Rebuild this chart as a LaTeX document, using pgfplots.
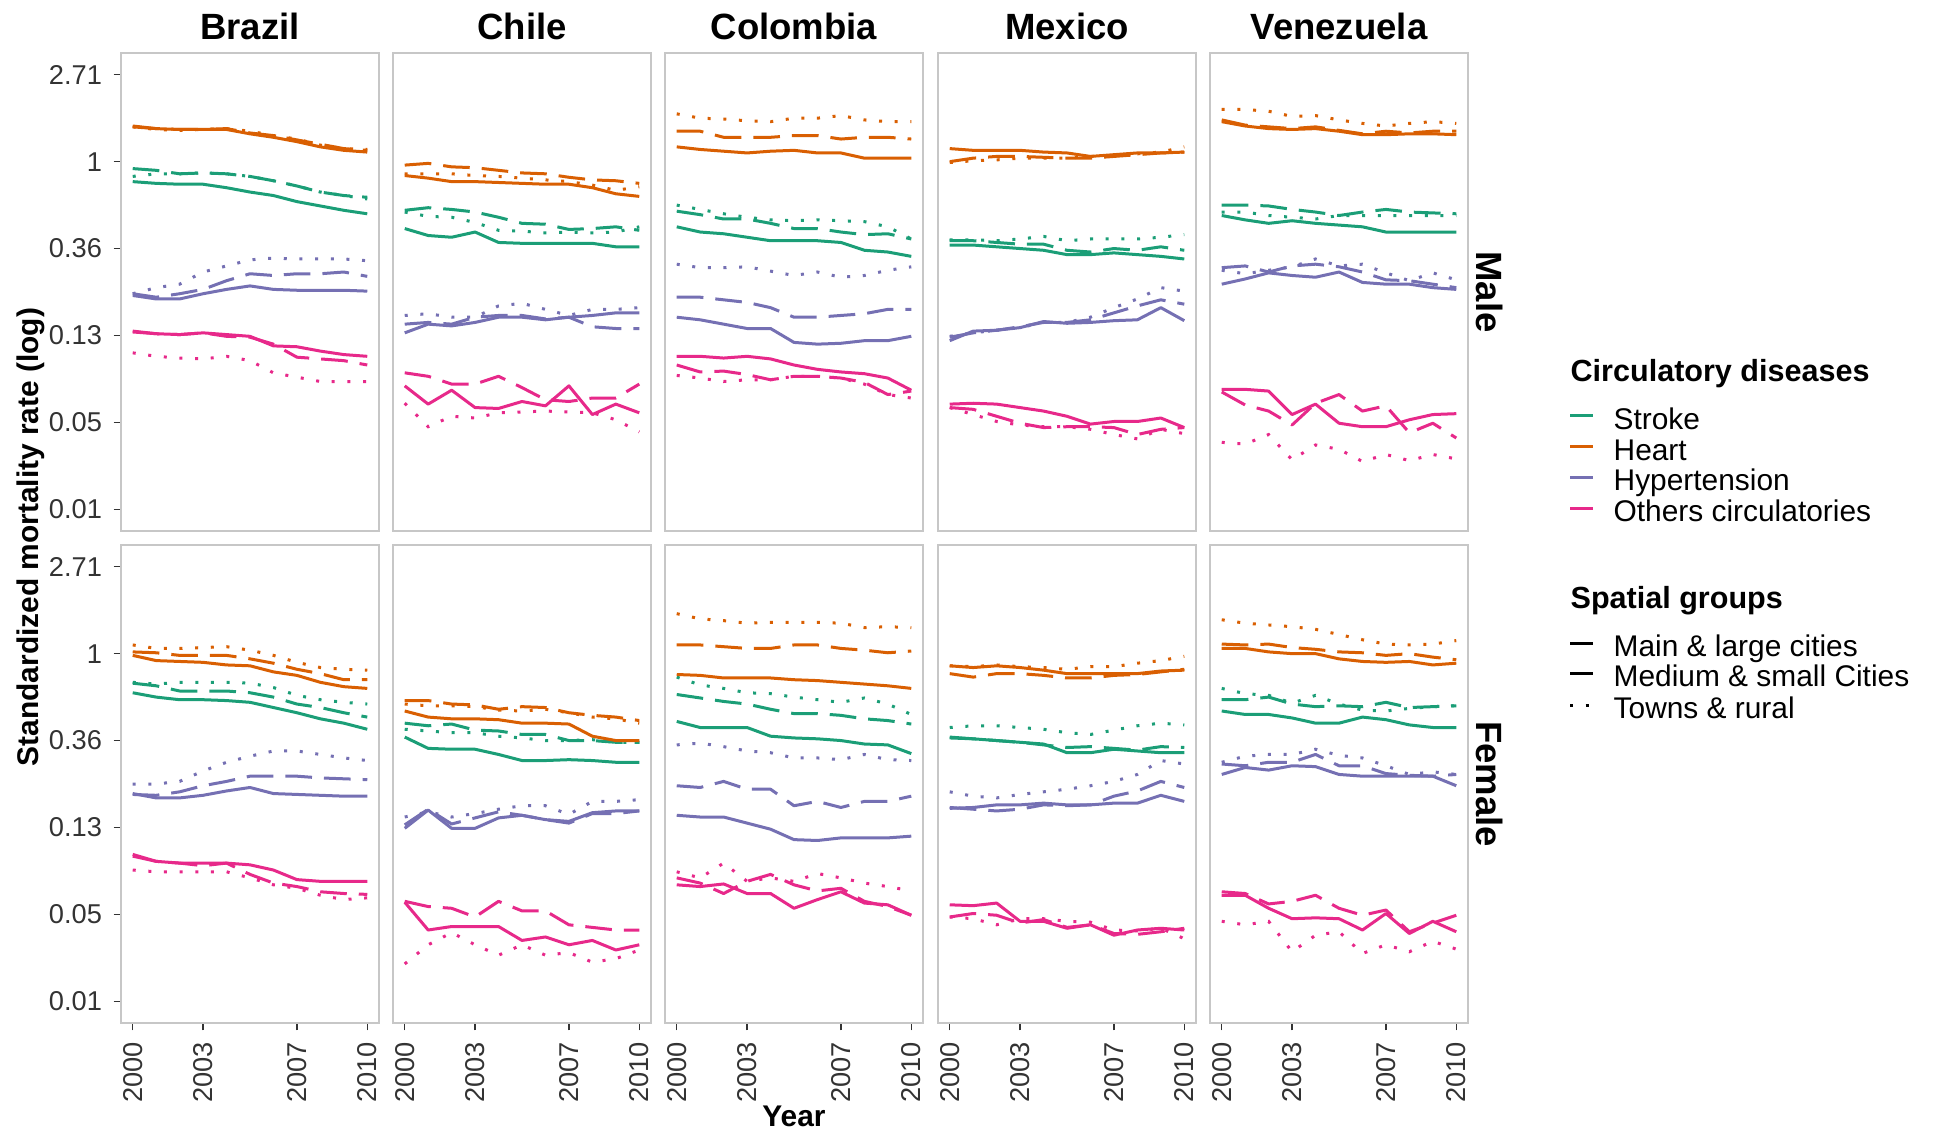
\documentclass[border=0pt]{standalone}
\usepackage{fontspec}
\setmainfont{Liberation Sans}
\usepackage{pgfplots}
\usepackage{pgfplotstable}
\pgfplotsset{compat=1.18}

\definecolor{cS}{HTML}{1B9E77}
\definecolor{cH}{HTML}{D95F02}
\definecolor{cP}{HTML}{7570B3}
\definecolor{cO}{HTML}{E7298A}

% values are natural logs of the standardized mortality rate
% S = Stroke, H = Heart, P = Hypertension, O = Others circulatories
% s = Main & large cities, m = Medium & small Cities, t = Towns & rural
\pgfplotstableread{
yr Ss Sm St Hs Hm Ht Ps Pm Pt Os Om Ot
2000 -0.23 -0.08 -0.17 0.40 0.41 0.40 -1.54 -1.52 -1.52 -1.95 -1.96 -2.20
2001 -0.25 -0.10 -0.14 0.38 0.38 0.37 -1.58 -1.56 -1.45 -1.98 -1.98 -2.24
2002 -0.26 -0.14 -0.14 0.37 0.37 0.36 -1.58 -1.52 -1.41 -1.99 -1.99 -2.26
2003 -0.26 -0.13 -0.13 0.37 0.37 0.37 -1.52 -1.47 -1.27 -1.97 -1.97 -2.27
2004 -0.30 -0.14 -0.14 0.37 0.38 0.38 -1.47 -1.37 -1.20 -1.99 -2.01 -2.24
2005 -0.35 -0.17 -0.17 0.32 0.33 0.35 -1.43 -1.29 -1.13 -2.01 -2.02 -2.29
2006 -0.39 -0.22 -0.22 0.28 0.30 0.30 -1.47 -1.31 -1.11 -2.12 -2.10 -2.43
2007 -0.46 -0.28 -0.28 0.23 0.25 0.26 -1.48 -1.29 -1.12 -2.13 -2.25 -2.48
2008 -0.51 -0.35 -0.35 0.17 0.20 0.19 -1.48 -1.29 -1.12 -2.18 -2.27 -2.53
2009 -0.56 -0.39 -0.39 0.13 0.15 0.15 -1.48 -1.27 -1.12 -2.22 -2.29 -2.53
2010 -0.60 -0.41 -0.43 0.11 0.13 0.14 -1.49 -1.32 -1.14 -2.24 -2.34 -2.53
}\BrM
\pgfplotstableread{
yr Ss Sm St Hs Hm Ht Ps Pm Pt Os Om Ot
2000 -0.77 -0.56 -0.58 -0.16 -0.04 -0.14 -1.97 -1.87 -1.77 -2.58 -2.43 -2.78
2001 -0.85 -0.53 -0.63 -0.19 -0.02 -0.14 -1.87 -1.85 -1.75 -2.79 -2.47 -3.05
2002 -0.87 -0.55 -0.64 -0.23 -0.06 -0.14 -1.89 -1.87 -1.79 -2.63 -2.56 -2.93
2003 -0.81 -0.58 -0.70 -0.23 -0.07 -0.16 -1.85 -1.79 -1.79 -2.83 -2.56 -2.95
2004 -0.93 -0.64 -0.79 -0.24 -0.10 -0.17 -1.79 -1.77 -1.66 -2.84 -2.47 -2.89
2005 -0.94 -0.71 -0.80 -0.25 -0.13 -0.19 -1.79 -1.77 -1.63 -2.76 -2.60 -2.88
2006 -0.94 -0.72 -0.82 -0.26 -0.14 -0.21 -1.82 -1.81 -1.70 -2.81 -2.74 -2.87
2007 -0.94 -0.78 -0.81 -0.26 -0.18 -0.23 -1.79 -1.79 -1.77 -2.58 -2.76 -2.88
2008 -0.94 -0.77 -0.82 -0.30 -0.21 -0.27 -1.77 -1.90 -1.70 -2.91 -2.72 -2.89
2009 -0.98 -0.75 -0.81 -0.37 -0.22 -0.33 -1.74 -1.92 -1.70 -2.79 -2.72 -2.97
2010 -0.98 -0.79 -0.75 -0.40 -0.25 -0.29 -1.74 -1.92 -1.68 -2.89 -2.56 -3.11
}\ChM
\pgfplotstableread{
yr Ss Sm St Hs Hm Ht Ps Pm Pt Os Om Ot
2000 -0.75 -0.57 -0.50 0.17 0.35 0.55 -1.79 -1.56 -1.18 -2.24 -2.34 -2.46
2001 -0.81 -0.61 -0.55 0.14 0.35 0.50 -1.82 -1.56 -1.22 -2.24 -2.42 -2.49
2002 -0.83 -0.66 -0.60 0.12 0.28 0.49 -1.87 -1.59 -1.22 -2.26 -2.41 -2.53
2003 -0.87 -0.66 -0.64 0.10 0.28 0.47 -1.92 -1.62 -1.21 -2.24 -2.45 -2.51
2004 -0.91 -0.71 -0.67 0.12 0.28 0.46 -1.92 -1.68 -1.26 -2.27 -2.51 -2.51
2005 -0.91 -0.77 -0.68 0.13 0.30 0.50 -2.08 -1.79 -1.31 -2.34 -2.47 -2.47
2006 -0.91 -0.77 -0.67 0.10 0.30 0.50 -2.10 -1.79 -1.27 -2.39 -2.47 -2.47
2007 -0.93 -0.81 -0.68 0.10 0.26 0.53 -2.09 -1.77 -1.33 -2.42 -2.49 -2.49
2008 -1.02 -0.84 -0.69 0.04 0.28 0.48 -2.06 -1.75 -1.31 -2.44 -2.54 -2.56
2009 -1.04 -0.83 -0.75 0.04 0.28 0.46 -2.06 -1.70 -1.25 -2.49 -2.68 -2.68
2010 -1.09 -0.89 -0.89 0.04 0.26 0.46 -2.01 -1.70 -1.21 -2.63 -2.64 -2.72
}\CoM
\pgfplotstableread{
yr Ss Sm St Hs Hm Ht Ps Pm Pt Os Om Ot
2000 -0.96 -0.91 -0.90 0.15 0.00 -0.01 -2.06 -2.02 -2.01 -2.79 -2.83 -2.83
2001 -0.96 -0.91 -0.90 0.13 0.04 0.01 -1.95 -1.97 -1.97 -2.78 -2.85 -2.91
2002 -0.98 -0.93 -0.91 0.13 0.06 0.02 -1.94 -1.94 -1.94 -2.79 -2.93 -2.99
2003 -1.00 -0.95 -0.89 0.13 0.06 0.04 -1.91 -1.90 -1.91 -2.83 -3.01 -3.03
2004 -1.02 -0.95 -0.86 0.11 0.05 0.04 -1.84 -1.85 -1.85 -2.87 -3.06 -3.05
2005 -1.07 -1.02 -0.91 0.10 0.04 0.04 -1.86 -1.85 -1.85 -2.93 -3.05 -3.05
2006 -1.07 -1.04 -0.89 0.06 0.04 0.06 -1.85 -1.82 -1.79 -3.02 -3.05 -3.08
2007 -1.05 -1.00 -0.89 0.08 0.06 0.06 -1.83 -1.74 -1.68 -2.99 -3.06 -3.14
2008 -1.07 -1.02 -0.89 0.10 0.08 0.09 -1.82 -1.66 -1.58 -2.99 -3.14 -3.19
2009 -1.09 -0.98 -0.87 0.10 0.10 0.11 -1.68 -1.59 -1.45 -2.95 -3.08 -3.08
2010 -1.12 -1.02 -0.84 0.11 0.11 0.17 -1.83 -1.64 -1.49 -3.06 -3.06 -3.13
}\MeM
\pgfplotstableread{
yr Ss Sm St Hs Hm Ht Ps Pm Pt Os Om Ot
2000 -0.62 -0.50 -0.58 0.46 0.48 0.60 -1.41 -1.22 -1.25 -2.62 -2.65 -3.23
2001 -0.67 -0.50 -0.58 0.41 0.42 0.60 -1.35 -1.20 -1.29 -2.62 -2.80 -3.25
2002 -0.71 -0.51 -0.62 0.38 0.40 0.58 -1.28 -1.27 -1.25 -2.64 -2.87 -3.14
2003 -0.68 -0.55 -0.64 0.37 0.38 0.52 -1.31 -1.20 -1.21 -2.91 -3.03 -3.43
2004 -0.71 -0.58 -0.66 0.38 0.40 0.53 -1.33 -1.18 -1.12 -2.79 -2.78 -3.26
2005 -0.73 -0.62 -0.62 0.35 0.36 0.48 -1.27 -1.21 -1.20 -3.01 -2.68 -3.31
2006 -0.75 -0.58 -0.62 0.31 0.32 0.44 -1.39 -1.27 -1.18 -3.05 -2.87 -3.45
2007 -0.81 -0.55 -0.62 0.31 0.35 0.41 -1.41 -1.36 -1.28 -3.05 -2.81 -3.37
2008 -0.81 -0.58 -0.62 0.32 0.33 0.44 -1.41 -1.37 -1.37 -2.97 -3.12 -3.44
2009 -0.81 -0.59 -0.62 0.32 0.35 0.46 -1.45 -1.41 -1.28 -2.91 -3.01 -3.37
2010 -0.81 -0.60 -0.62 0.31 0.35 0.44 -1.47 -1.45 -1.36 -2.90 -3.18 -3.42
}\VeM
\pgfplotstableread{
yr Ss Sm St Hs Hm Ht Ps Pm Pt Os Om Ot
2000 -0.45 -0.34 -0.33 -0.02 0.02 0.10 -1.61 -1.62 -1.50 -2.31 -2.33 -2.49
2001 -0.50 -0.37 -0.35 -0.08 0.01 0.06 -1.66 -1.63 -1.50 -2.39 -2.39 -2.51
2002 -0.53 -0.43 -0.33 -0.09 -0.02 0.06 -1.66 -1.59 -1.47 -2.41 -2.41 -2.51
2003 -0.53 -0.43 -0.33 -0.10 -0.02 0.07 -1.63 -1.52 -1.35 -2.41 -2.44 -2.51
2004 -0.54 -0.43 -0.33 -0.13 -0.02 0.08 -1.58 -1.47 -1.25 -2.41 -2.41 -2.51
2005 -0.56 -0.45 -0.34 -0.14 -0.06 0.04 -1.54 -1.41 -1.18 -2.43 -2.54 -2.58
2006 -0.62 -0.50 -0.39 -0.21 -0.11 -0.02 -1.61 -1.41 -1.12 -2.49 -2.64 -2.66
2007 -0.68 -0.58 -0.48 -0.25 -0.18 -0.10 -1.62 -1.41 -1.12 -2.60 -2.68 -2.70
2008 -0.75 -0.62 -0.53 -0.33 -0.23 -0.16 -1.63 -1.43 -1.16 -2.62 -2.74 -2.78
2009 -0.80 -0.68 -0.56 -0.38 -0.30 -0.18 -1.64 -1.44 -1.20 -2.62 -2.76 -2.83
2010 -0.87 -0.73 -0.58 -0.40 -0.30 -0.19 -1.64 -1.45 -1.23 -2.62 -2.77 -2.81
}\BrF
\pgfplotstableread{
yr Ss Sm St Hs Hm Ht Ps Pm Pt Os Om Ot
2000 -0.96 -0.80 -0.87 -0.66 -0.54 -0.58 -2.01 -1.97 -1.88 -2.86 -2.85 -3.57
2001 -1.09 -0.83 -0.89 -0.73 -0.54 -0.60 -1.80 -1.79 -1.82 -3.18 -2.91 -3.35
2002 -1.10 -0.81 -0.91 -0.75 -0.58 -0.60 -2.01 -1.96 -1.88 -3.14 -2.93 -3.21
2003 -1.10 -0.88 -0.91 -0.75 -0.59 -0.61 -2.01 -1.89 -1.84 -3.14 -3.03 -3.35
2004 -1.16 -0.89 -0.95 -0.76 -0.64 -0.65 -1.89 -1.82 -1.79 -3.14 -2.85 -3.47
2005 -1.23 -0.93 -0.97 -0.80 -0.61 -0.66 -1.86 -1.86 -1.75 -3.30 -2.96 -3.35
2006 -1.23 -0.93 -1.00 -0.80 -0.62 -0.64 -1.91 -1.91 -1.75 -3.26 -2.96 -3.47
2007 -1.22 -1.00 -1.00 -0.81 -0.68 -0.68 -1.93 -1.95 -1.85 -3.35 -3.12 -3.44
2008 -1.23 -1.00 -0.99 -0.95 -0.71 -0.73 -1.83 -1.84 -1.70 -3.30 -3.15 -3.55
2009 -1.25 -1.02 -1.02 -1.00 -0.73 -0.75 -1.81 -1.84 -1.70 -3.41 -3.18 -3.51
2010 -1.25 -1.02 -1.02 -1.00 -0.77 -0.80 -1.81 -1.81 -1.68 -3.35 -3.18 -3.41
}\ChF
\pgfplotstableread{
yr Ss Sm St Hs Hm Ht Ps Pm Pt Os Om Ot
2000 -0.78 -0.47 -0.27 -0.24 0.10 0.46 -1.86 -1.52 -1.05 -2.66 -2.58 -2.51
2001 -0.85 -0.51 -0.36 -0.25 0.10 0.40 -1.88 -1.54 -1.03 -2.68 -2.64 -2.58
2002 -0.85 -0.55 -0.40 -0.28 0.08 0.38 -1.88 -1.47 -1.07 -2.65 -2.76 -2.41
2003 -0.85 -0.58 -0.45 -0.28 0.06 0.35 -1.95 -1.56 -1.12 -2.76 -2.62 -2.62
2004 -0.95 -0.64 -0.46 -0.28 0.06 0.36 -2.02 -1.56 -1.14 -2.76 -2.54 -2.58
2005 -0.97 -0.69 -0.50 -0.30 0.10 0.36 -2.14 -1.75 -1.20 -2.93 -2.66 -2.62
2006 -0.98 -0.69 -0.53 -0.31 0.10 0.36 -2.15 -1.70 -1.20 -2.83 -2.73 -2.53
2007 -1.00 -0.71 -0.56 -0.33 0.06 0.35 -2.12 -1.77 -1.22 -2.74 -2.70 -2.58
2008 -1.04 -0.75 -0.51 -0.35 0.04 0.30 -2.12 -1.70 -1.16 -2.87 -2.85 -2.64
2009 -1.05 -0.77 -0.58 -0.37 0.01 0.31 -2.12 -1.70 -1.22 -2.89 -2.91 -2.68
2010 -1.15 -0.81 -0.70 -0.40 0.03 0.30 -2.10 -1.64 -1.23 -3.01 -3.01 -2.73
}\CoF
\pgfplotstableread{
yr Ss Sm St Hs Hm Ht Ps Pm Pt Os Om Ot
2000 -0.97 -0.96 -0.85 -0.14 -0.23 -0.14 -1.78 -1.77 -1.59 -2.89 -3.03 -3.03
2001 -0.98 -0.98 -0.83 -0.16 -0.27 -0.15 -1.77 -1.79 -1.64 -2.90 -2.99 -3.05
2002 -1.00 -1.00 -0.83 -0.14 -0.23 -0.13 -1.74 -1.81 -1.66 -2.87 -3.01 -3.12
2003 -1.02 -1.02 -0.85 -0.16 -0.23 -0.15 -1.74 -1.79 -1.62 -3.08 -3.10 -3.05
2004 -1.04 -1.05 -0.87 -0.19 -0.25 -0.16 -1.72 -1.74 -1.59 -3.08 -3.06 -3.05
2005 -1.14 -1.08 -0.91 -0.23 -0.28 -0.18 -1.74 -1.75 -1.56 -3.16 -3.15 -3.08
2006 -1.14 -1.07 -0.93 -0.23 -0.28 -0.15 -1.74 -1.74 -1.52 -3.12 -3.12 -3.09
2007 -1.10 -1.09 -0.88 -0.23 -0.25 -0.15 -1.72 -1.64 -1.47 -3.24 -3.22 -3.18
2008 -1.12 -1.11 -0.83 -0.23 -0.24 -0.11 -1.72 -1.58 -1.39 -3.18 -3.23 -3.19
2009 -1.14 -1.07 -0.80 -0.20 -0.21 -0.08 -1.63 -1.47 -1.23 -3.16 -3.20 -3.16
2010 -1.14 -1.08 -0.82 -0.19 -0.18 -0.03 -1.70 -1.54 -1.27 -3.18 -3.16 -3.28
}\MeF
\pgfplotstableread{
yr Ss Sm St Hs Hm Ht Ps Pm Pt Os Om Ot
2000 -0.66 -0.53 -0.40 0.06 0.11 0.39 -1.39 -1.27 -1.25 -2.78 -2.74 -3.08
2001 -0.70 -0.53 -0.46 0.06 0.10 0.35 -1.31 -1.29 -1.18 -2.78 -2.76 -3.12
2002 -0.70 -0.50 -0.48 0.02 0.11 0.33 -1.34 -1.25 -1.16 -2.93 -2.88 -3.08
2003 -0.74 -0.58 -0.57 0.00 0.07 0.31 -1.29 -1.25 -1.16 -3.05 -2.85 -3.43
2004 -0.80 -0.61 -0.48 0.00 0.05 0.28 -1.30 -1.16 -1.10 -3.04 -2.78 -3.24
2005 -0.80 -0.60 -0.58 -0.06 0.02 0.22 -1.39 -1.29 -1.17 -3.05 -2.93 -3.20
2006 -0.73 -0.61 -0.65 -0.09 0.01 0.16 -1.41 -1.29 -1.20 -3.18 -3.01 -3.45
2007 -0.76 -0.56 -0.66 -0.10 -0.02 0.11 -1.41 -1.38 -1.29 -2.99 -2.95 -3.35
2008 -0.82 -0.62 -0.63 -0.09 0.00 0.10 -1.41 -1.40 -1.39 -3.22 -3.20 -3.43
2009 -0.85 -0.61 -0.61 -0.13 -0.04 0.11 -1.41 -1.41 -1.36 -3.08 -3.10 -3.31
2010 -0.85 -0.60 -0.60 -0.11 -0.07 0.15 -1.52 -1.39 -1.39 -3.20 -3.01 -3.40
}\VeF

\tikzset{
  gS/.style={line width=0.9bp, solid, line join=round},
  gM/.style={line width=0.9bp, dash pattern=on 8bp off 3.6bp, line join=round},
  gT/.style={line width=0.9bp, dash pattern=on 0.9bp off 3.8bp},
}
\newcommand\ftick{\fontsize{8.2}{9}\selectfont}
\pgfplotsset{
  panel/.style={
    scale only axis, width=77.4bp, height=143.4bp,
    xmin=1999.5, xmax=2010.5, ymin=-4.25, ymax=1.25,
    axis line style={draw=black!22, line width=0.6bp},
    tick align=outside, major tick length=2.2bp,
    tick style={black!80, line width=0.45bp},
    xtick=\empty, ytick=\empty,
    xtick pos=bottom, ytick pos=left,
    no markers, anchor=north west,
    ticklabel style={font=\ftick, text=black!80},
    /pgf/number format/assume math mode=true,
  },
  ylab/.style={ytick={-4,-3,-2,-1,0,1}, yticklabels={0.01,0.05,0.13,0.36,1,2.71}},
  xlab/.style={xtick={2000,2003,2007,2010}, xticklabels={2000,2003,2007,2010},
    xticklabel style={rotate=90, anchor=east}},
}
\newcommand\drawpanel[1]{%
  \addplot[cS,gS] table[x=yr,y=Ss]{#1};
  \addplot[cS,gM] table[x=yr,y=Sm]{#1};
  \addplot[cS,gT] table[x=yr,y=St]{#1};
  \addplot[cH,gS] table[x=yr,y=Hs]{#1};
  \addplot[cH,gM] table[x=yr,y=Hm]{#1};
  \addplot[cH,gT] table[x=yr,y=Ht]{#1};
  \addplot[cP,gS] table[x=yr,y=Ps]{#1};
  \addplot[cP,gM] table[x=yr,y=Pm]{#1};
  \addplot[cP,gT] table[x=yr,y=Pt]{#1};
  \addplot[cO,gS] table[x=yr,y=Os]{#1};
  \addplot[cO,gM] table[x=yr,y=Om]{#1};
  \addplot[cO,gT] table[x=yr,y=Ot]{#1};
}

\begin{document}
\begin{tikzpicture}
\useasboundingbox (0,0) rectangle (581.7bp,-340.8bp);
% top row: Male
\begin{axis}[panel, ylab, at={(36.3bp,-15.9bp)}]\drawpanel{\BrM}\end{axis}
\begin{axis}[panel, at={(117.9bp,-15.9bp)}]\drawpanel{\ChM}\end{axis}
\begin{axis}[panel, at={(199.5bp,-15.9bp)}]\drawpanel{\CoM}\end{axis}
\begin{axis}[panel, at={(281.4bp,-15.9bp)}]\drawpanel{\MeM}\end{axis}
\begin{axis}[panel, at={(363.0bp,-15.9bp)}]\drawpanel{\VeM}\end{axis}
% bottom row: Female
\begin{axis}[panel, ylab, xlab, at={(36.3bp,-163.5bp)}]\drawpanel{\BrF}\end{axis}
\begin{axis}[panel, xlab, at={(117.9bp,-163.5bp)}]\drawpanel{\ChF}\end{axis}
\begin{axis}[panel, xlab, at={(199.5bp,-163.5bp)}]\drawpanel{\CoF}\end{axis}
\begin{axis}[panel, xlab, at={(281.4bp,-163.5bp)}]\drawpanel{\MeF}\end{axis}
\begin{axis}[panel, xlab, at={(363.0bp,-163.5bp)}]\drawpanel{\VeF}\end{axis}

% strip titles
\begin{scope}[every node/.style={font=\fontsize{11}{12}\selectfont\bfseries, inner sep=0, anchor=base}]
\node at (75.0bp,-11.7bp) {Brazil};
\node at (156.6bp,-11.7bp) {Chile};
\node at (238.2bp,-11.7bp) {Colombia};
\node at (320.1bp,-11.7bp) {Mexico};
\node at (401.7bp,-11.7bp) {Venezuela};
\end{scope}
\node[font=\fontsize{11}{12}\selectfont\bfseries, rotate=-90, inner sep=0] at (447bp,-87.6bp) {Male};
\node[font=\fontsize{11}{12}\selectfont\bfseries, rotate=-90, inner sep=0] at (447bp,-235.2bp) {Female};

% axis titles
\node[font=\fontsize{9}{10}\selectfont\bfseries, inner sep=0, anchor=base] at (238.2bp,-337.8bp) {Year};
\node[font=\fontsize{9}{10}\selectfont\bfseries, inner sep=0, rotate=90] at (9.3bp,-161.1bp) {Standardized mortality rate (log)};

% legends
\begin{scope}[every node/.style={inner sep=0, anchor=base west}]
\node[font=\fontsize{9.2}{10}\selectfont\bfseries] at (471bp,-114.5bp) {Circulatory diseases};
\draw[cS, gS] (471bp,-124.7bp) -- (477.9bp,-124.7bp);
\draw[cH, gS] (471bp,-134.0bp) -- (477.9bp,-134.0bp);
\draw[cP, gS] (471bp,-143.1bp) -- (477.9bp,-143.1bp);
\draw[cO, gS] (471bp,-152.4bp) -- (477.9bp,-152.4bp);
\node[font=\fontsize{9}{10}\selectfont] at (483.9bp,-128.8bp) {Stroke};
\node[font=\fontsize{9}{10}\selectfont] at (483.9bp,-138.1bp) {Heart};
\node[font=\fontsize{9}{10}\selectfont] at (483.9bp,-147.2bp) {Hypertension};
\node[font=\fontsize{9}{10}\selectfont] at (483.9bp,-156.5bp) {Others circulatories};
\node[font=\fontsize{9.2}{10}\selectfont\bfseries] at (471bp,-182.4bp) {Spatial groups};
\draw[black, gS] (471bp,-192.9bp) -- (477.9bp,-192.9bp);
\draw[black, gM] (471bp,-201.9bp) -- (477.9bp,-201.9bp);
\draw[black, gT] (471bp,-211.5bp) -- (477.9bp,-211.5bp);
\node[font=\fontsize{9}{10}\selectfont] at (483.9bp,-197.0bp) {Main \& large cities};
\node[font=\fontsize{9}{10}\selectfont] at (483.9bp,-206.0bp) {Medium \& small Cities};
\node[font=\fontsize{9}{10}\selectfont] at (483.9bp,-215.6bp) {Towns \& rural};
\end{scope}
\end{tikzpicture}
\end{document}
